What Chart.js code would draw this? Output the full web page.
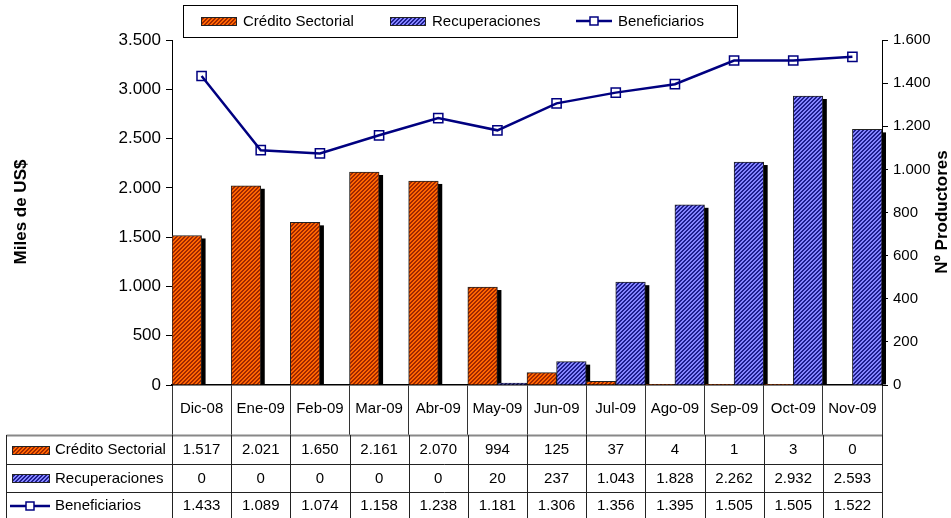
<!DOCTYPE html>
<html>
<head>
<meta charset="utf-8">
<script src="https://cdn.jsdelivr.net/npm/chart.js@4"></script>
<style>
    body { margin: 0; background: #fff; }
    #grafico { display: block; }
</style>
</head>
<body>
<canvas id="grafico" width="951" height="518"></canvas>
<script>
const meses          = ['Dic-08', 'Ene-09', 'Feb-09', 'Mar-09', 'Abr-09', 'May-09', 'Jun-09', 'Jul-09', 'Ago-09', 'Sep-09', 'Oct-09', 'Nov-09'];
const credito        = [1517, 2021, 1650, 2161, 2070, 994, 125, 37, 4, 1, 3, 0];
const recuperaciones = [0, 0, 0, 0, 0, 20, 237, 1043, 1828, 2262, 2932, 2593];
const beneficiarios  = [1433, 1089, 1074, 1158, 1238, 1181, 1306, 1356, 1395, 1505, 1505, 1522];

const FUENTE = "'Liberation Sans', Arial, sans-serif";
const AZUL_LINEA = '#000080';

const canvas = document.getElementById('grafico');
const ctxPrincipal = canvas.getContext('2d');

function crearPatron(claro, oscuro) {
    const n = 4;
    const c = document.createElement('canvas');
    c.width = n;
    c.height = n;
    const cx = c.getContext('2d');
    for (let x = 0; x < n; x++) {
        for (let y = 0; y < n; y++) {
            cx.fillStyle = ((x + y) % n) < 2 ? oscuro : claro;
            cx.fillRect(x, y, 1, 1);
        }
    }
    return ctxPrincipal.createPattern(c, 'repeat');
}

const patronRojo = crearPatron('#ff6600', '#a02800');
const patronAzul = crearPatron('#8585ff', '#1e1e8e');

function formatoMiles(v) {
    return String(v).replace(/\B(?=(\d{3})+(?!\d))/g, '.');
}

// sombras negras detrás de cada barra
const sombras = {
    id: 'sombras',
    beforeDatasetsDraw(chart) {
        const ctx = chart.ctx;
        ctx.save();
        ctx.fillStyle = '#000';
        chart.data.datasets.forEach((ds, i) => {
            if (ds.type !== 'bar') return;
            chart.getDatasetMeta(i).data.forEach(bar => {
                const top = bar.y + 3;
                if (top >= bar.base) return;
                ctx.fillRect(bar.x - bar.width / 2 + 4, top, bar.width, bar.base - top);
            });
        });
        ctx.restore();
    }
};

function dibujarClaveLinea(ctx, x1, x2, y) {
    ctx.strokeStyle = AZUL_LINEA;
    ctx.lineWidth = 2.5;
    ctx.beginPath();
    ctx.moveTo(x1, y);
    ctx.lineTo(x2, y);
    ctx.stroke();
    const m = (x1 + x2) / 2;
    ctx.fillStyle = '#fff';
    ctx.fillRect(m - 4, y - 4, 8, 8);
    ctx.lineWidth = 1.5;
    ctx.strokeRect(m - 4, y - 4, 8, 8);
}

function dibujarClaveBarra(ctx, patron, x, y, w, h) {
    ctx.fillStyle = patron;
    ctx.fillRect(x, y, w, h);
    ctx.strokeStyle = '#222';
    ctx.lineWidth = 1;
    ctx.strokeRect(x + 0.5, y + 0.5, w - 1, h - 1);
}

// leyenda, títulos de ejes y tabla de datos
const extras = {
    id: 'extras',
    afterDraw(chart) {
        const ctx = chart.ctx;
        const xs = chart.scales.x;
        const area = chart.chartArea;
        ctx.save();

        // leyenda
        ctx.strokeStyle = '#000';
        ctx.lineWidth = 1;
        ctx.strokeRect(183.5, 5.5, 554, 32);
        ctx.font = '15px ' + FUENTE;
        ctx.fillStyle = '#000';
        ctx.textBaseline = 'middle';
        ctx.textAlign = 'left';
        dibujarClaveBarra(ctx, patronRojo, 201, 17, 36, 9);
        ctx.fillStyle = '#000';
        ctx.fillText('Crédito Sectorial', 243, 22);
        dibujarClaveBarra(ctx, patronAzul, 390, 17, 36, 9);
        ctx.fillStyle = '#000';
        ctx.fillText('Recuperaciones', 432, 22);
        dibujarClaveLinea(ctx, 576, 612, 21);
        ctx.fillStyle = '#000';
        ctx.fillText('Beneficiarios', 618, 22);

        // títulos de ejes
        ctx.font = 'bold 17px ' + FUENTE;
        ctx.textAlign = 'center';
        ctx.save();
        ctx.translate(21, 212);
        ctx.rotate(-Math.PI / 2);
        ctx.fillText('Miles de US$', 0, 0);
        ctx.restore();
        ctx.save();
        ctx.translate(942, 212);
        ctx.rotate(-Math.PI / 2);
        ctx.fillText('Nº Productores', 0, 0);
        ctx.restore();

        // tabla
        const filas = [
            { nombre: 'Crédito Sectorial', valores: credito, y: 450 },
            { nombre: 'Recuperaciones', valores: recuperaciones, y: 479 },
            { nombre: 'Beneficiarios', valores: beneficiarios, y: 506 }
        ];
        const izq = 6.5;
        ctx.strokeStyle = '#888';
        ctx.lineWidth = 2;
        ctx.beginPath();
        ctx.moveTo(izq, 435.5);
        ctx.lineTo(area.right, 435.5);
        ctx.stroke();
        ctx.strokeStyle = '#222';
        ctx.lineWidth = 1;
        ctx.beginPath();
        [464.5, 492.5].forEach(y => {
            ctx.moveTo(izq, y);
            ctx.lineTo(area.right, y);
        });
        ctx.moveTo(izq, 435);
        ctx.lineTo(izq, 518);
        for (let i = 0; i <= meses.length; i++) {
            const x = Math.round(xs.left + i * (xs.width / meses.length)) + 0.5;
            ctx.moveTo(x, 435);
            ctx.lineTo(x, 518);
        }
        ctx.stroke();

        dibujarClaveBarra(ctx, patronRojo, 12, 446, 38, 9);
        dibujarClaveBarra(ctx, patronAzul, 12, 474, 38, 9);
        dibujarClaveLinea(ctx, 10, 50, 506);

        ctx.font = '15px ' + FUENTE;
        ctx.fillStyle = '#000';
        ctx.textBaseline = 'middle';
        filas.forEach(f => {
            ctx.textAlign = 'left';
            ctx.fillText(f.nombre, 55, f.y);
            ctx.textAlign = 'center';
            f.valores.forEach((v, i) => {
                ctx.fillText(formatoMiles(v), xs.getPixelForValue(i), f.y);
            });
        });
        ctx.restore();
    }
};

new Chart(canvas, {
    data: {
        labels: meses,
        datasets: [
            {
                type: 'line',
                label: 'Beneficiarios',
                data: beneficiarios,
                yAxisID: 'y1',
                order: 0,
                borderColor: AZUL_LINEA,
                borderWidth: 2.5,
                tension: 0,
                pointStyle: 'rect',
                pointRadius: 6.5,
                pointBorderWidth: 1.5,
                pointBorderColor: AZUL_LINEA,
                pointBackgroundColor: 'rgba(255,255,255,0)'
            },
            {
                type: 'bar',
                label: 'Crédito Sectorial',
                data: credito,
                yAxisID: 'y',
                order: 1,
                backgroundColor: patronRojo,
                borderColor: '#222',
                borderWidth: 1,
                categoryPercentage: 1,
                barPercentage: 1
            },
            {
                type: 'bar',
                label: 'Recuperaciones',
                data: recuperaciones,
                yAxisID: 'y',
                order: 1,
                backgroundColor: patronAzul,
                borderColor: '#222',
                borderWidth: 1,
                categoryPercentage: 1,
                barPercentage: 1
            }
        ]
    },
    options: {
        responsive: false,
        animation: false,
        layout: { padding: { top: 40, left: 0, right: 0, bottom: 0 } },
        plugins: {
            legend: { display: false },
            tooltip: { enabled: false }
        },
        scales: {
            x: {
                grid: { drawOnChartArea: false, tickLength: 50, color: '#333', offset: true },
                border: { color: '#000', width: 1.5 },
                ticks: { font: { family: FUENTE, size: 15 }, color: '#000', padding: -35, maxRotation: 0, autoSkip: false },
                afterFit: s => { s.height = 133; }
            },
            y: {
                position: 'left',
                min: 0,
                max: 3500,
                grid: { drawOnChartArea: false, tickLength: 6, color: '#000' },
                border: { color: '#000', width: 1 },
                ticks: { stepSize: 500, font: { family: FUENTE, size: 17 }, color: '#000', padding: 5, callback: formatoMiles },
                afterFit: s => { s.width = 172; }
            },
            y1: {
                position: 'right',
                min: 0,
                max: 1600,
                grid: { drawOnChartArea: false, tickLength: 6, color: '#000' },
                border: { color: '#000', width: 1 },
                ticks: { stepSize: 200, font: { family: FUENTE, size: 15 }, color: '#000', padding: 5, callback: formatoMiles },
                afterFit: s => { s.width = 69; }
            }
        }
    },
    plugins: [sombras, extras]
});
</script>
</body>
</html>
